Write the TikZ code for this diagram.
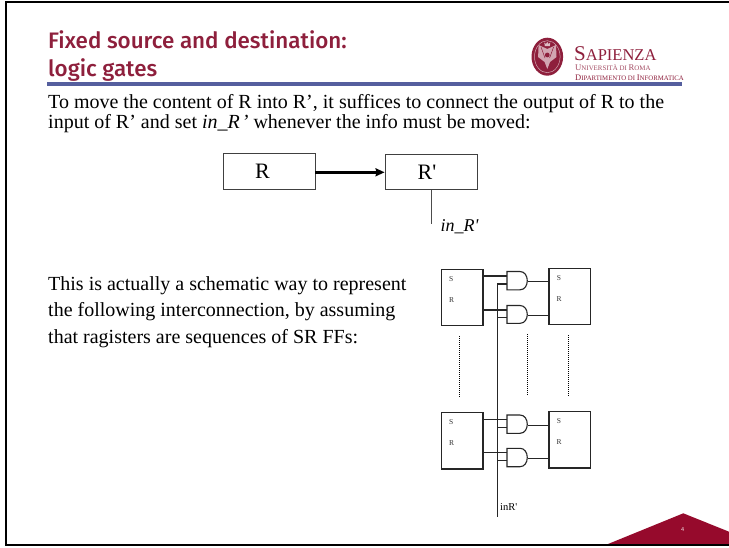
\documentclass[tikz,border=0pt]{standalone}
\usepackage{fontspec}
\setmainfont{Liberation Serif}
\newfontfamily\titlefont{Fira Sans Medium}
\usetikzlibrary{arrows.meta}
\definecolor{sapred}{HTML}{8E1F3C}
\definecolor{sapdark}{HTML}{960A2C}
\definecolor{bandblue}{HTML}{555F9E}
\tikzset{
  x=1pt,y=-1pt,
  bigbox/.style={draw=black!75,line width=0.9pt,minimum width=92pt,minimum height=35.5pt,inner sep=0pt,font=\fontsize{22}{22}\selectfont},
  ffbox/.style={draw=black!85,line width=1.1pt,minimum width=41.5pt,minimum height=56.5pt,inner sep=0pt},
  wire/.style={draw=black!85,line width=1.1pt},
  ffpin/.style={inner sep=0pt,font=\fontsize{7.5}{8}\selectfont,text=black!80},
  dots/.style={draw=black,line width=0.8pt,dash pattern=on 1pt off 1pt},
  bodya/.style={inner sep=0pt,anchor=base west,font=\fontsize{20}{20}\selectfont},
  title/.style={inner sep=0pt,anchor=base west,text=sapred,font=\titlefont\fontsize{22.4}{23}\selectfont},
  logotext/.style={inner sep=0pt,anchor=base west,text=sapred},
}
% \andgate{name}{top y}{bottom y}
\newcommand{\andgate}[3]{%
  \draw[wire] (520,#2) -- (507,#2) -- (507,#3) -- (520,#3)
     .. controls (529.7,#3) and (529.7,#2) .. (520,#2);
  \coordinate (#1a) at (507,#2+4.5);
  \coordinate (#1b) at (507,#3-5.8);
  \coordinate (#1o) at (527.5,{(#2+#3)/2+1});
}
\begin{document}
\begin{tikzpicture}
\useasboundingbox (0,0) rectangle (729,547);
\fill[white] (0,0) rectangle (729,547);
% frame
\fill[sapdark] (608,544) -- (683.3,513.3) -- (729,531.7) -- (729,544) -- cycle;
\draw[black,line width=2pt] (729,2.2) -- (5.8,2.2) -- (5.8,544.8) -- (729,544.8);
\node[inner sep=0pt,text=white!85!sapdark,font=\sffamily\fontsize{6}{6}\selectfont] (pageno) at (682.7,530) {4};
% header
\node[title] (t1) at (48,48.5) {Fixed source and destination:};
\node[title] (t2) at (48,76) {logic gates};
\fill[bandblue] (47,82) rectangle (682,86);
% logo
\fill[sapred] (547.3,56.7) ellipse [x radius=15.8,y radius=19];
\draw[white!60!sapred,line width=0.5pt] (547.3,56.7) ellipse [x radius=12.8,y radius=16];
\fill[white!60!sapred] (547.3,49) -- (556,45) -- (556.5,57) -- (550,62) -- (547.3,69) -- (544.6,62) -- (538.1,57) -- (538.6,45) -- cycle;
\fill[sapred] (547.3,55) circle (2.4);
\draw[sapred,line width=0.5pt] (541,47) -- (545,58) (553.6,47) -- (549.6,58);
\fill[white!70!sapred] (544.8,46) -- (544.3,42.5) -- (546,44) -- (547.3,42) -- (548.6,44) -- (550.3,42.5) -- (549.8,46) -- cycle;
\node[logotext,font=\fontsize{21}{21}\selectfont] (lg1) at (574,60) {S\fontsize{16.5}{16}\selectfont APIENZA};
\node[logotext,font=\fontsize{8.7}{9}\selectfont,text=sapred!80] (lg2) at (575,70) {U\fontsize{6.9}{7}\selectfont NIVERSITÀ DI \fontsize{8.7}{9}\selectfont R\fontsize{6.9}{7}\selectfont OMA};
\node[logotext,font=\fontsize{8.5}{9}\selectfont] (lg3) at (575,80) {D\fontsize{6.8}{7}\selectfont IPARTIMENTO DI \fontsize{8.5}{9}\selectfont I\fontsize{6.8}{7}\selectfont NFORMATICA};
% body
\node[bodya] (b1) at (48,108) {To move the content of R into R’, it suffices to connect the output of R to the};
\node[bodya] (b2) at (48,128) {input of R’ and set \textit{in\_R\kern2pt’} whenever the info must be moved:};
\node[bodya] (b3) at (48,290) {This is actually a schematic way to represent};
\node[bodya] (b4) at (48,316.5) {the following interconnection, by assuming};
\node[bodya] (b5) at (48,343.5) {that ragisters are sequences of SR FFs:};
% top schematic
\node[bigbox] (R) at (269,171.3) {R\kern13pt\relax};
\node[bigbox] (Rp) at (431,172) {R\textquotesingle\kern8pt\relax};
\draw[black,line width=2.6pt,-{Stealth[length=9pt,width=8pt,inset=1pt]}] (R.east |- 0,172.3) -- (Rp.west |- 0,172.3);
\coordinate (inend) at (431.7,224);
\draw[black!70,line width=0.8pt] (Rp.south -| inend) -- (inend);
\node[inner sep=0pt,anchor=base west,font=\itshape\fontsize{18}{18}\selectfont] (inlab) at (440.5,231) {in\_R\textquotesingle};
% flip-flops
\node[ffbox] (L1) at (462.2,297.3) {};
\node[ffbox] (R1) at (569.7,296.5) {};
\node[ffbox] (L2) at (462.2,440.7) {};
\node[ffbox] (R2) at (569.7,439.7) {};
\foreach \n/\t/\x/\y in {sa/S/451.3/279,ra/R/451.5/300.5,sb/S/559/278,rb/R/559/299.5,sc/S/451.3/422,rc/R/451.5/443,sd/S/559/421,rd/R/559/442}{
  \node[ffpin] (pin\n) at (\x,\y) {\t};
}
% gates
\andgate{ga}{271.5}{289.8}
\andgate{gb}{305.5}{323.3}
\andgate{gc}{415}{433.3}
\andgate{gd}{448.3}{466.7}
% bus
\coordinate (bustop) at (497.3,284);
\coordinate (busend) at (497.3,517);
\draw[wire] (bustop) -- (busend);
\node[inner sep=0pt,anchor=base west,font=\fontsize{10.5}{11}\selectfont] (inr) at (500,510) {inR\textquotesingle};
% connectors
\foreach \g/\l/\r in {ga/L1/R1,gb/L1/R1,gc/L2/R2,gd/L2/R2}{
  \draw[wire] (\l.east |- \g a) -- (\g a);
  \draw[wire] (bustop |- \g b) -- (\g b);
  \draw[wire] (\g o) -- (\r.west |- \g o);
}
% dotted
\coordinate (d1a) at (459.3,336); \coordinate (d1b) at (459.3,398);
\coordinate (d2a) at (527.5,334); \coordinate (d2b) at (527.5,396);
\coordinate (d3a) at (568.7,335); \coordinate (d3b) at (568.7,397);
\draw[dots] (d1a) -- (d1b);
\draw[dots] (d2a) -- (d2b);
\draw[dots] (d3a) -- (d3b);
\end{tikzpicture}
\end{document}
